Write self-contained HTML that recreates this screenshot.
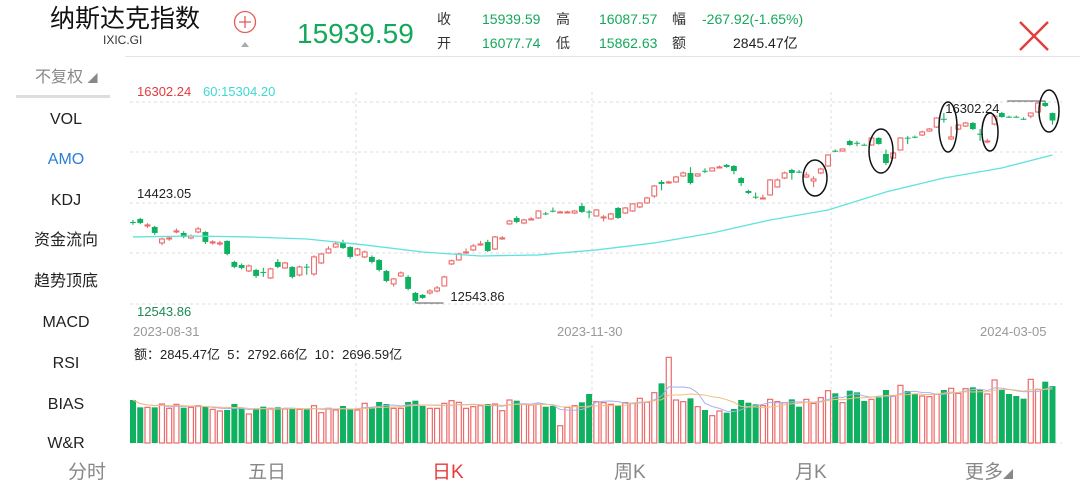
<!DOCTYPE html>
<html><head><meta charset="utf-8">
<style>
body{margin:0;width:1080px;height:488px;background:#fff;overflow:hidden;font-family:"Liberation Sans","Noto Sans CJK SC",sans-serif;position:relative}
.a{position:absolute;white-space:nowrap}
.side{position:absolute;left:0;width:132px;text-align:center;font-size:16px;color:#222;line-height:20px;height:20px}
.tab{position:absolute;top:461px;font-size:19px;color:#888;line-height:24px}
</style></head><body>
<div class="a" style="left:50px;top:4px;font-size:25px;line-height:30px;color:#111">纳斯达克指数</div>
<div class="a" style="left:103px;top:33px;font-size:12px;line-height:14px;color:#333">IXIC.GI</div>
<svg class="a" style="left:232px;top:10px" width="26" height="42"><circle cx="13" cy="12" r="10.5" fill="none" stroke="#e25b5b" stroke-width="1.3"/><path d="M7 12H19M13 6V18" stroke="#e25b5b" stroke-width="1.3"/><path d="M9 37L13 32L17 37Z" fill="#aaa"/></svg>
<div class="a" style="left:297px;top:17px;font-size:28px;line-height:34px;color:#14a85c">15939.59</div>
<div class="a" style="left:437px;top:7px;font-size:14px;color:#333;line-height:24px">收<br>开</div>
<div class="a" style="left:482px;top:7px;font-size:14px;color:#14a85c;line-height:24px">15939.59<br>16077.74</div>
<div class="a" style="left:556px;top:7px;font-size:14px;color:#333;line-height:24px">高<br>低</div>
<div class="a" style="left:599px;top:7px;font-size:14px;color:#14a85c;line-height:24px">16087.57<br>15862.63</div>
<div class="a" style="left:672px;top:7px;font-size:14px;color:#333;line-height:24px">幅<br>额</div>
<div class="a" style="left:702px;top:7px;font-size:14px;color:#14a85c;line-height:24px">-267.92(-1.65%)</div>
<div class="a" style="left:733px;top:31px;font-size:14px;color:#222;line-height:24px">2845.47亿</div>
<svg class="a" style="left:1018px;top:20px" width="32" height="32"><path d="M2 2L30 30M30 2L2 30" stroke="#e53b3b" stroke-width="2.4"/></svg>
<div class="a" style="left:125px;top:56px;width:955px;height:1px;background:#e4e4e4"></div>
<div class="a" style="left:35px;top:67px;font-size:16px;line-height:22px;color:#888">不复权 <span style="font-size:10px">◢</span></div>
<div class="a" style="left:16px;top:95px;width:94px;height:3px;background:#ddd"></div>
<div class="side" style="top:110px">VOL</div>
<div class="side" style="top:150px;color:#2a7fd8">AMO</div>
<div class="side" style="top:191px">KDJ</div>
<div class="side" style="top:231px">资金流向</div>
<div class="side" style="top:272px">趋势顶底</div>
<div class="side" style="top:313px">MACD</div>
<div class="side" style="top:354px">RSI</div>
<div class="side" style="top:395px">BIAS</div>
<div class="side" style="top:434px;height:14px;overflow:hidden">W&amp;R</div>
<div class="tab" style="left:68px">分时</div>
<div class="tab" style="left:248px">五日</div>
<div class="tab" style="left:432px;color:#e53b3b">日K</div>
<div class="tab" style="left:614px">周K</div>
<div class="tab" style="left:795px">月K</div>
<div class="tab" style="left:965px">更多<span style="font-size:10px">◢</span></div>
<div class="a" style="left:137px;top:84px;font-size:13px;color:#e53b3b">16302.24</div>
<div class="a" style="left:203px;top:84px;font-size:13px;color:#3fd9d2">60:15304.20</div>
<div class="a" style="left:137px;top:186px;font-size:13px;color:#222">14423.05</div>
<div class="a" style="left:137px;top:304px;font-size:13px;color:#1a8a50">12543.86</div>
<div class="a" style="left:133px;top:324px;font-size:13px;color:#999">2023-08-31</div>
<div class="a" style="left:557px;top:324px;font-size:13px;color:#999">2023-11-30</div>
<div class="a" style="left:980px;top:324px;font-size:13px;color:#999">2024-03-05</div>
<div class="a" style="left:134px;top:344px;font-size:13px;color:#222">额：2845.47亿&nbsp; 5：2792.66亿&nbsp; 10：2696.59亿</div>
<svg id="ch" class="a" style="left:0;top:0" width="1080" height="488"></svg>
<script>
const opens=[14052,14108,13977,13959,13661,13735,13866,13847,13754,13866,13866,13661,13642,13698,13308,13252,13140,13159,13122,13010,13308,13196,13215,13066,13220,13085,13289,13475,13586,13661,13586,13438,13401,13401,13345,13140,12899,13047,13029,12731,12694,12731,12768,12861,13271,13345,13480,13531,13630,13680,13549,13740,14015,14126,14033,14100,14126,14210,14262,14230,14230,14219,14349,14245,14163,14140,14108,14312,14219,14256,14331,14405,14535,14796,14790,14796,14907,14963,14907,15005,15000,15070,15112,15093,14870,14628,14522,14494,14554,14703,14870,15019,14987,14889,14814,14963,15093,15378,15372,15558,15525,15489,15484,15614,15317,15242,15391,15620,15638,15670,15744,15818,15972,15596,15781,15837,15893,15694,15540,15874,16079,16010,16010,15972,16023,16098,16265,16077.74];
const closes=[14033,14033,13996,13847,13735,13754,13885,13773,13791,13922,13680,13680,13661,13456,13215,13196,13233,13047,13103,13178,13215,13289,13029,13215,13215,13401,13456,13549,13642,13568,13401,13549,13493,13308,13159,12954,12992,13103,12806,12582,12638,12768,12824,13029,13330,13456,13493,13605,13642,13512,13773,13754,14070,14052,14089,14108,14256,14201,14256,14238,14238,14256,14238,14238,14275,14145,14201,14126,14312,14387,14405,14498,14721,14759,14796,14889,14963,14777,14945,15000,15056,15075,15075,15000,14777,14591,14517,14498,14833,14833,14963,14963,14982,14926,14852,15037,15298,15372,15410,15484,15521,15484,15614,15503,15149,15335,15614,15614,15633,15726,15781,15986,15967,15633,15856,15893,15781,15689,15558,16023,16005,16005,16005,15967,16079,16265,16209,15939.59];
const highs=[14090,14130,14030,13980,13760,13790,13930,13880,13820,13960,13880,13710,13700,13710,13330,13280,13260,13180,13200,13200,13360,13310,13230,13240,13270,13430,13480,13600,13690,13720,13600,13570,13520,13430,13360,13160,13010,13130,13060,12750,12710,12800,12860,13050,13350,13480,13560,13640,13700,13720,13790,13790,14090,14160,14110,14140,14270,14240,14320,14260,14260,14270,14400,14270,14290,14180,14220,14330,14330,14400,14420,14520,14740,14830,14820,14910,14990,15070,14960,15050,15070,15100,15130,15110,14890,14650,14600,14560,14850,14860,14990,15040,15020,14980,14900,15060,15310,15400,15420,15580,15560,15510,15630,15630,15400,15360,15630,15650,15660,15750,15800,16000,16080,15830,15870,15910,15910,15780,15600,16040,16100,16030,16030,16000,16090,16280,16302.24,16087.57];
const lows=[14000,14010,13940,13810,13620,13700,13840,13750,13730,13840,13640,13630,13610,13430,13190,13170,13120,13010,13030,12990,13190,13180,13000,13040,13070,13050,13270,13460,13570,13550,13370,13420,13380,13280,13130,12930,12850,13030,12780,12543.86,12620,12700,12740,12850,13250,13330,13460,13510,13610,13490,13530,13720,14000,14030,14010,14080,14110,14180,14230,14210,14210,14200,14220,14120,14150,14060,14090,14110,14200,14240,14310,14390,14500,14640,14760,14780,14890,14750,14890,14960,14990,15050,15060,14940,14720,14570,14480,14470,14540,14690,14850,14840,14960,14870,14700,14940,15080,15350,15360,15470,15460,15470,15470,15490,15110,15230,15380,15500,15610,15650,15730,15800,15900,15580,15760,15820,15760,15560,15520,15850,15990,15990,15990,15950,15980,16080,16190,15862.63];
const amounts=[2150,1783,1783,1783,1950,1733,1933,1766,1783,1866,1800,1683,1600,1650,1950,1733,1450,1683,1816,1733,1783,1700,1700,1683,1683,1866,1516,1733,1650,1850,1700,1650,1983,1783,2050,1950,1733,1733,2050,2116,1850,1733,1733,1983,2116,2033,1733,1816,1866,1950,1950,1616,2150,2116,1950,1900,1933,1816,1850,866,1783,1866,2033,2450,2066,2016,1933,1866,2016,1983,2233,2033,2516,2983,4283,2150,2066,2233,1816,1650,1366,1600,1516,1700,2150,2016,1933,1866,2183,2066,2016,2183,1816,2183,1983,2266,2616,2483,2016,2616,2533,2100,2183,2283,2650,2350,2883,2600,2450,2350,2316,2433,2650,2733,2483,2716,2783,2683,2450,3150,2650,2450,2350,2216,3183,2683,3066,2845.47];
const ma60Idx=[0,8,16,24,32,40,48,56,64,72,80,88,96,104,112,120,127];
const ma60Vals=[13773,13791,13773,13735,13624,13493,13419,13438,13531,13661,13847,14089,14275,14610,14870,15056,15298];
const PMAX=16302.24,PMIN=12543.86;
const svg=document.getElementById('ch');const NS='http://www.w3.org/2000/svg';
function X(i){return 133+i*7.24}
function Y(v){return 101+(PMAX-v)/(PMAX-PMIN)*202}
function VY(a){return 443-a/50}
function mk(t,at,parent){const e=document.createElementNS(NS,t);for(const k in at)e.setAttribute(k,at[k]);(parent||svg).appendChild(e);return e}
[102,152,203,253,304,443].forEach(y=>{const g=mk('line',{x1:130,x2:1062,y1:y,y2:y,stroke:'#ddd','stroke-dasharray':'3,3'});

});
[356,592,831].forEach(x=>{[[92,318],[345,443]].forEach(r=>{const g=mk('line',{x1:x,x2:x,y1:r[0],y2:r[1],stroke:'#ddd','stroke-dasharray':'3,3'});

});});
const RED='#ec6a6a',GRN='#0fb060';
for(let i=0;i<opens.length;i++){
 const up=closes[i]>=opens[i],col=up?RED:GRN,x=X(i);
 const g=mk('g',{});
 
 
 const t=Y(Math.max(opens[i],closes[i])),b=Y(Math.min(opens[i],closes[i]));
 mk('line',{x1:x,x2:x,y1:Y(highs[i]),y2:t,stroke:col,'stroke-width':1.1},g);
 mk('line',{x1:x,x2:x,y1:b,y2:Y(lows[i]),stroke:col,'stroke-width':1.1},g);
 const h=Math.max(b-t,1);
 if(up)mk('rect',{x:x-2.4,y:t,width:4.8,height:h,fill:'#fff',stroke:col,'stroke-width':1.1},g);
 else mk('rect',{x:x-2.9,y:t,width:5.8,height:h,fill:col},g);
 const vg=mk('g',{});
 
 
 const vy=VY(amounts[i]);
 if(up)mk('rect',{x:x-2.5,y:vy,width:5,height:443-vy,fill:'#fff',stroke:col,'stroke-width':1.2},vg);
 else mk('rect',{x:x-3,y:vy,width:6,height:443-vy,fill:col},vg);
}
let d='';ma60Idx.forEach((k,j)=>{d+=(j?'L':'M')+X(k)+' '+Y(ma60Vals[j])});
const ma=mk('path',{d:d,fill:'none',stroke:'#5fe3dc','stroke-width':1.3});


[[5,'#a9b0f2'],[10,'#f4bd7a']].forEach(([n,c])=>{let p='';for(let i=0;i<amounts.length;i++){const s=Math.max(0,i-n+1);let sum=0;for(let k=s;k<=i;k++)sum+=amounts[k];p+=(i?'L':'M')+X(i)+' '+VY(sum/(i-s+1));}
const l=mk('path',{d:p,fill:'none',stroke:c,'stroke-width':1});

});
const hi=highs.indexOf(Math.max(...highs)),lo=lows.indexOf(Math.min(...lows));
const m1=mk('line',{x1:X(hi)-38,x2:X(hi),y1:Y(highs[hi]),y2:Y(highs[hi]),stroke:'#555','stroke-width':1});


const t1=mk('text',{x:X(hi)-100,y:Y(highs[hi])+12,'font-size':13,fill:'#222','font-family':'Liberation Sans'});t1.textContent=highs[hi].toFixed(2);


const m2=mk('line',{x1:X(lo),x2:X(lo)+28,y1:Y(lows[lo]),y2:Y(lows[lo]),stroke:'#555','stroke-width':1});


const t2=mk('text',{x:X(lo)+35,y:Y(lows[lo])-2,'font-size':13,fill:'#222','font-family':'Liberation Sans'});t2.textContent=lows[lo].toFixed(2);


[[815,178,12,18],[881,151,12,22],[948,127,9,25],[990,132,8,19],[1049,111,10,21]].forEach(e=>{const el=mk('ellipse',{cx:e[0],cy:e[1],rx:e[2],ry:e[3],fill:'none',stroke:'#111','stroke-width':1.5});

});
</script>
</body></html>
